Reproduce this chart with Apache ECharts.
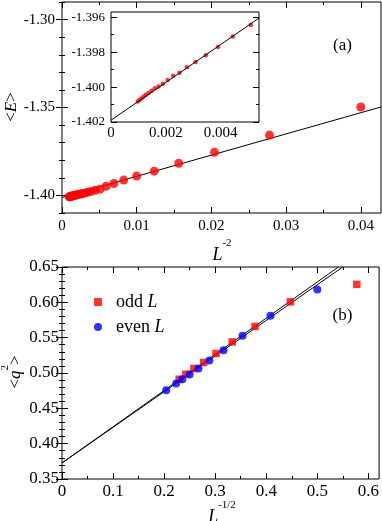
<!DOCTYPE html>
<html>
<head>
<meta charset="utf-8">
<script src="https://cdn.jsdelivr.net/npm/echarts@6/dist/echarts.min.js"></script>
<style>
html, body { margin: 0; padding: 0; background: #fff; }
#chart { width: 382px; height: 521px; }
</style>
</head>
<body>
<div id="chart"></div>
<script>
// panel (a): <E> against L^-2
const sizesA = [5, 6, 7, 8, 9, 10, 11, 12, 13, 14, 15, 16, 17, 18, 19, 20, 21, 22, 23, 24, 25, 26, 27, 28, 29, 30, 31, 32]
const energy = [
    -1.3497, -1.3657, -1.3755, -1.3817, -1.3862, -1.3890, -1.3913, -1.3932, -1.3948,
    -1.39644, -1.39711, -1.39771, -1.39817, -1.39857, -1.39886, -1.39918, -1.39935, -1.3996,
    -1.39981, -1.39997, -1.40006, -1.40021, -1.40034, -1.40044, -1.40054, -1.40065, -1.40074, -1.40082
]
const fitA = [[0, -1.4012], [0.0427, -1.3497]]
const fitInset = [[0, -1.4019], [0.0054, -1.39605]]

// panel (b): <q^2> against L^-1/2
const oddL = [3, 5, 7, 9, 11, 13, 15, 17, 19]
const oddQ = [0.6254, 0.6007, 0.5659, 0.5440, 0.5276, 0.5149, 0.5064, 0.4983, 0.4912]
const evenL = [4, 6, 8, 10, 12, 14, 16, 18, 20, 24]
const evenQ = [0.6183, 0.5809, 0.5526, 0.5323, 0.5177, 0.5064, 0.4979, 0.4912, 0.4851, 0.4756]
const fitOdd = [[0, 0.3727], [0.5413, 0.65]]
const fitEven = [[0, 0.3727], [0.5497, 0.65]]

// axis ranges and ticks
const mainX = [0, 0.0427]
const mainXMajor = [0, 0.01, 0.02, 0.03, 0.04]
const mainXMinor = [0.005, 0.015, 0.025, 0.035]
const mainY = [-1.41, -1.29]
const mainYMajor = [-1.40, -1.35, -1.30]
const mainYMinor = [-1.41, -1.39, -1.38, -1.37, -1.36, -1.34, -1.33, -1.32, -1.31, -1.29]
const insetX = [0, 0.0054]
const insetXLabels = [0, 0.002, 0.004]
const insetY = [-1.402, -1.3957]
const insetYMajor = [-1.402, -1.400, -1.398, -1.396]
const insetYMinor = [-1.401, -1.399, -1.397]
const qX = [0, 0.621]
const qXMajor = [0, 0.1, 0.2, 0.3, 0.4, 0.5, 0.6]
const qXMinor = [0.05, 0.15, 0.25, 0.35, 0.45, 0.55]
const qY = [0.35, 0.65]
const qYMajor = [0.35, 0.40, 0.45, 0.50, 0.55, 0.60, 0.65]
const qYMinor = [0.36, 0.37, 0.38, 0.39, 0.41, 0.42, 0.43, 0.44, 0.46, 0.47, 0.48, 0.49,
    0.51, 0.52, 0.53, 0.54, 0.56, 0.57, 0.58, 0.59, 0.61, 0.62, 0.63, 0.64]

const SERIF = '"Liberation Serif", "DejaVu Serif", serif'

// one axis for long ticks (+labels) and one for short ticks on the same side
function tickAxes(pos, gi, range, major, minor, label, z) {
    let base = {
        type: 'value', gridIndex: gi, position: pos, min: range[0], max: range[1], z: z || 0,
        splitLine: { show: false }, axisLine: { show: false }
    }
    let tick = (vals, len) => ({
        show: true, inside: true, length: len, customValues: vals,
        lineStyle: { color: '#000', width: 1 }
    })
    return [
        Object.assign({}, base, {
            axisTick: tick(major, 6),
            axisLabel: label
                ? Object.assign({ customValues: major, color: '#000', fontFamily: SERIF }, label)
                : { show: false }
        }),
        Object.assign({}, base, { axisTick: tick(minor, 3), axisLabel: { show: false } })
    ]
}

let fmt = d => v => (v === 0 ? '0' : v.toFixed(d))

let chart = echarts.init(document.getElementById('chart'))

let option = {
    animation: false,
    grid: [
        { left: 62, top: 2, width: 319, height: 211, show: true, borderColor: '#000', borderWidth: 1, backgroundColor: 'transparent' },
        { left: 111, top: 12, width: 148, height: 110, show: true, borderColor: '#000', borderWidth: 1, backgroundColor: '#fff', z: 5 },
        { left: 62, top: 267, width: 319, height: 212, show: true, borderColor: '#000', borderWidth: 1, backgroundColor: 'transparent' }
    ],
    xAxis: [
        ...tickAxes('bottom', 0, mainX, mainXMajor, mainXMinor, { fontSize: 15, margin: 6, formatter: fmt(2) }),
        ...tickAxes('top', 0, mainX, mainXMajor, mainXMinor),
        {
            type: 'value', gridIndex: 1, position: 'bottom', min: insetX[0], max: insetX[1], z: 6,
            splitLine: { show: false }, axisLine: { show: false }, axisTick: { show: false },
            axisLabel: { customValues: insetXLabels, color: '#000', fontFamily: SERIF, fontSize: 15, margin: 4, formatter: fmt(3) }
        },
        ...tickAxes('bottom', 2, qX, qXMajor, qXMinor, { fontSize: 17, margin: 4, formatter: fmt(1) }),
        ...tickAxes('top', 2, qX, qXMajor, qXMinor)
    ],
    yAxis: [
        ...tickAxes('left', 0, mainY, mainYMajor, mainYMinor, { fontSize: 15, margin: 7, formatter: v => v.toFixed(2) }),
        ...tickAxes('right', 0, mainY, mainYMajor, mainYMinor),
        ...tickAxes('left', 1, insetY, insetYMajor, insetYMinor, { fontSize: 13, margin: 6, formatter: v => v.toFixed(3) }, 6),
        ...tickAxes('right', 1, insetY, insetYMajor, insetYMinor, null, 6),
        ...tickAxes('left', 2, qY, qYMajor, qYMinor, { fontSize: 17, margin: 3, formatter: v => v.toFixed(2) }),
        ...tickAxes('right', 2, qY, qYMajor, qYMinor)
    ],
    legend: {
        orient: 'vertical', left: 89, top: 288, itemWidth: 8, itemHeight: 8, itemGap: 7,
        data: ['odd L', 'even L'],
        formatter: n => '{sp| }' + n.replace(' L', ' {i|L}'),
        textStyle: {
            fontFamily: SERIF, fontSize: 18, color: '#000', lineHeight: 18,
            rich: {
                sp: { width: 9, fontSize: 18, lineHeight: 18 },
                i: { fontFamily: SERIF, fontStyle: 'italic', fontSize: 18, lineHeight: 18, color: '#000' }
            }
        }
    },
    graphic: [
        {
            type: 'text', x: 12, y: 107, rotation: Math.PI / 2,
            style: {
                text: '{t|<}{i|E}{t|>}', align: 'center', verticalAlign: 'middle',
                rich: {
                    t: { fontFamily: SERIF, fontSize: 17, fill: '#000' },
                    i: { fontFamily: SERIF, fontSize: 17, fontStyle: 'italic', fill: '#000' }
                }
            }
        },
        {
            type: 'text', x: 12, y: 372, rotation: Math.PI / 2,
            style: {
                text: '{t|<}{i|q}{s|2}{t|>}', align: 'center', verticalAlign: 'middle',
                rich: {
                    t: { fontFamily: SERIF, fontSize: 17, fill: '#000', lineHeight: 24, verticalAlign: 'bottom' },
                    i: { fontFamily: SERIF, fontSize: 17, fontStyle: 'italic', fill: '#000', lineHeight: 24, verticalAlign: 'bottom' },
                    s: { fontFamily: SERIF, fontSize: 11, fill: '#000', lineHeight: 8, verticalAlign: 'top' }
                }
            }
        },
        {
            type: 'text', x: 222, y: 251,
            style: {
                text: '{i|L}{s|-2}', align: 'center', verticalAlign: 'middle',
                rich: {
                    i: { fontFamily: SERIF, fontSize: 18, fontStyle: 'italic', fill: '#000', lineHeight: 26, verticalAlign: 'bottom' },
                    s: { fontFamily: SERIF, fontSize: 11, fill: '#000', lineHeight: 8, verticalAlign: 'top' }
                }
            }
        },
        {
            type: 'text', x: 222, y: 513,
            style: {
                text: '{i|L}{s|-1/2}', align: 'center', verticalAlign: 'middle',
                rich: {
                    i: { fontFamily: SERIF, fontSize: 18, fontStyle: 'italic', fill: '#000', lineHeight: 26, verticalAlign: 'bottom' },
                    s: { fontFamily: SERIF, fontSize: 11, fill: '#000', lineHeight: 8, verticalAlign: 'top' }
                }
            }
        },
        {
            type: 'text', x: 342.5, y: 45.5,
            style: { text: '(a)', fontFamily: SERIF, fontSize: 17, fill: '#000', align: 'center', verticalAlign: 'middle' }
        },
        {
            type: 'text', x: 342.5, y: 316,
            style: { text: '(b)', fontFamily: SERIF, fontSize: 17, fill: '#000', align: 'center', verticalAlign: 'middle' }
        }
    ],
    series: [
        {
            name: 'E', type: 'line', xAxisIndex: 0, yAxisIndex: 0, data: fitA, symbol: 'none', z: 2,
            lineStyle: { color: '#000', width: 1 }, silent: true
        },
        {
            name: 'E pts', type: 'scatter', xAxisIndex: 0, yAxisIndex: 0, symbolSize: 9, z: 3,
            itemStyle: { color: '#ff0000' },
            data: sizesA.map((l, i) => [1 / (l * l), energy[i]])
        },
        {
            name: 'E inset pts', type: 'scatter', xAxisIndex: 4, yAxisIndex: 4, symbolSize: 4.5, z: 7,
            itemStyle: { color: '#ff0000' },
            data: sizesA.map((l, i) => [1 / (l * l), energy[i]]).filter(p => p[0] < insetX[1] && p[1] < insetY[1])
        },
        {
            name: 'E inset fit', type: 'line', xAxisIndex: 4, yAxisIndex: 4, data: fitInset, symbol: 'none', z: 8,
            lineStyle: { color: '#000', width: 1 }, silent: true
        },
        {
            name: 'fit odd', type: 'line', xAxisIndex: 5, yAxisIndex: 8, data: fitOdd, symbol: 'none', z: 2,
            lineStyle: { color: '#000', width: 1 }, silent: true
        },
        {
            name: 'fit even', type: 'line', xAxisIndex: 5, yAxisIndex: 8, data: fitEven, symbol: 'none', z: 2,
            lineStyle: { color: '#000', width: 1 }, silent: true
        },
        {
            name: 'odd L', type: 'scatter', xAxisIndex: 5, yAxisIndex: 8, symbol: 'rect', symbolSize: 7.5, z: 3,
            itemStyle: { color: '#ff0000' },
            data: oddL.map((l, i) => [1 / Math.sqrt(l), oddQ[i]])
        },
        {
            name: 'even L', type: 'scatter', xAxisIndex: 5, yAxisIndex: 8, symbol: 'circle', symbolSize: 8, z: 3,
            itemStyle: { color: '#0000ff' },
            data: evenL.map((l, i) => [1 / Math.sqrt(l), evenQ[i]])
        }
    ]
}

chart.setOption(option)
</script>
</body>
</html>
